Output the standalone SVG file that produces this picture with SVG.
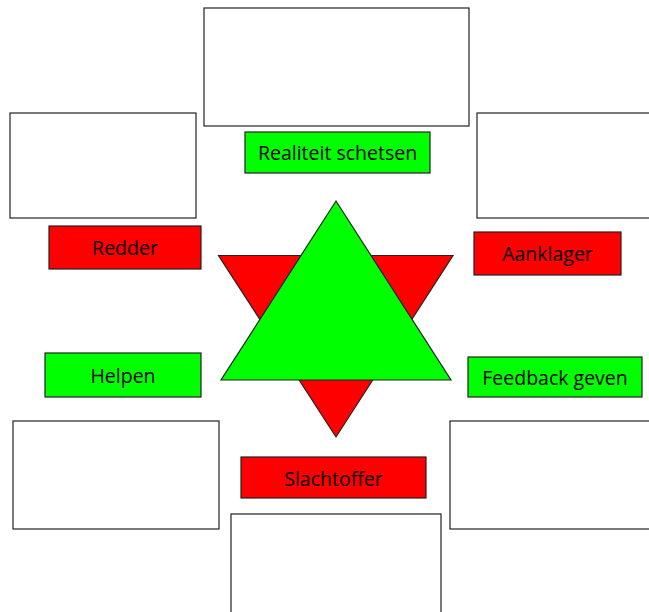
<svg xmlns="http://www.w3.org/2000/svg" width="649" height="612" viewBox="0 0 649 612">
<style>
.box{fill:#fff;stroke:#222;stroke-width:1.2}
.g{fill:#00ff00;stroke:#222;stroke-width:1.2}
.r{fill:#ff0000;stroke:#222;stroke-width:1.2}
.t{font-family:"Open Sans","Liberation Sans",sans-serif;font-size:19.5px;fill:#000;text-anchor:middle}
</style>
<rect width="649" height="612" fill="#fff"/>
<g id="box-top"><rect class="box" x="204" y="8" width="265" height="118"/></g>
<g id="box-left-top"><rect class="box" x="10" y="113" width="186" height="105"/></g>
<g id="box-right-top"><rect class="box" x="477" y="113" width="180" height="105"/></g>
<g id="box-left-bottom"><rect class="box" x="13" y="421" width="206" height="108"/></g>
<g id="box-right-bottom"><rect class="box" x="450" y="421" width="210" height="108"/></g>
<g id="box-bottom"><rect class="box" x="231" y="514" width="210" height="110"/></g>
<g id="star">
<polygon class="r" points="218.5,255.5 453,255.5 336,437"/>
<polygon class="g" points="336,201 451,380 221,380"/>
</g>
<g id="realiteit"><rect class="g" x="245" y="132" width="185" height="41"/><text class="t" x="337.5" y="160">Realiteit schetsen</text></g>
<g id="redder"><rect class="r" x="49" y="226" width="152" height="43"/><text class="t" x="125" y="255">Redder</text></g>
<g id="aanklager"><rect class="r" x="474" y="232" width="147" height="43"/><text class="t" x="547.5" y="261">Aanklager</text></g>
<g id="helpen"><rect class="g" x="45" y="353" width="156" height="44"/><text class="t" x="123" y="382.5">Helpen</text></g>
<g id="feedback"><rect class="g" x="468" y="357" width="174" height="40"/><text class="t" x="555" y="385">Feedback geven</text></g>
<g id="slachtoffer"><rect class="r" x="241" y="457" width="185" height="41"/><text class="t" x="333.5" y="485.5">Slachtoffer</text></g>
<g id="connectors"></g>
</svg>
